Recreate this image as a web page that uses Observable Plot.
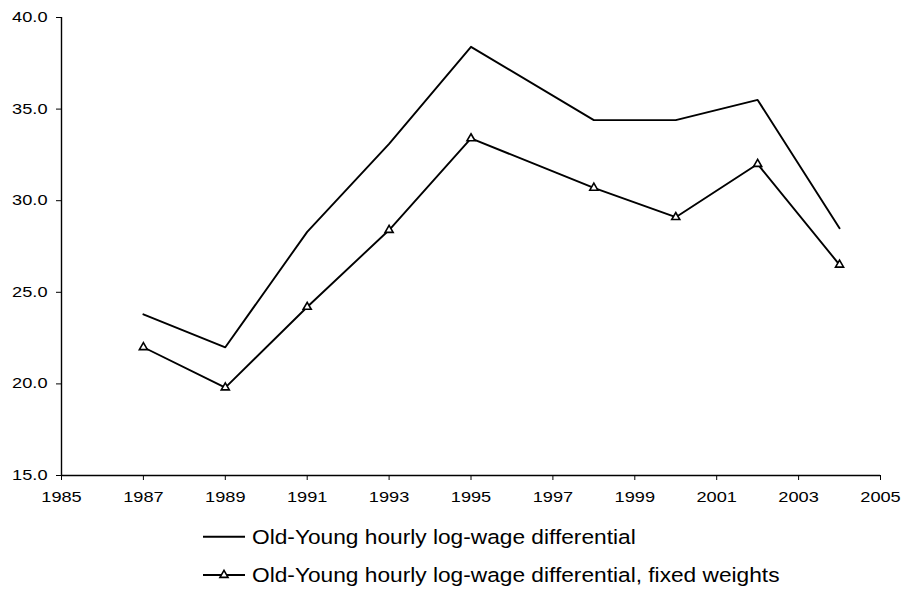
<!DOCTYPE html>
<html><head><meta charset="utf-8">
<script src="https://cdn.jsdelivr.net/npm/d3@7"></script>
<script src="https://cdn.jsdelivr.net/npm/@observablehq/plot@0.6"></script>
<style>body{margin:0;background:#fff;font-family:"Liberation Sans",Arial,sans-serif} #chart svg{display:block}</style>
</head><body><div id="chart"></div>
<script>
const years = [1987, 1989, 1991, 1993, 1995, 1998, 2000, 2002, 2004];
const differential = [23.8, 22.0, 28.3, 33.1, 38.4, 34.4, 34.4, 35.5, 28.5];
const fixedWeights = [22.0, 19.8, 24.2, 28.4, 33.4, 30.7, 29.1, 32.0, 26.5];
const xTicks = [1985, 1987, 1989, 1991, 1993, 1995, 1997, 1999, 2001, 2003, 2005];
const yTicks = [15, 20, 25, 30, 35, 40];
const seriesNames = ["Old-Young hourly log-wage differential", "Old-Young hourly log-wage differential, fixed weights"];

const rows1 = years.map((y, i) => ({year: y, value: differential[i]}));
const rows2 = years.map((y, i) => ({year: y, value: fixedWeights[i]}));

const plot = Plot.plot({
  width: 904, height: 505,
  marginLeft: 61, marginRight: 24, marginTop: 17, marginBottom: 30,
  style: {fontFamily: '"Liberation Sans", Arial, sans-serif', fontSize: "14px", color: "#000", background: "#fff"},
  x: {domain: [1985, 2005], ticks: xTicks, tickFormat: "d", tickSize: 5, tickPadding: 12, label: null},
  y: {domain: [15, 40], ticks: yTicks, tickFormat: d3.format(".1f"), tickSize: 5, tickPadding: 9, label: null},
  marks: [
    Plot.ruleX([1985], {stroke: "#000", strokeWidth: 1.4}),
    Plot.ruleY([15], {stroke: "#000", strokeWidth: 1.4}),
    Plot.line(rows1, {x: "year", y: "value", stroke: "#000", strokeWidth: 1.9}),
    Plot.line(rows2, {x: "year", y: "value", stroke: "#000", strokeWidth: 1.9}),
    Plot.dot(rows2, {x: "year", y: "value", symbol: "triangle", r: 3, fill: "#fff", stroke: "#000", strokeWidth: 1.6})
  ]
});

d3.select(plot).selectAll('g[aria-label="x-axis tick label"] text, g[aria-label="y-axis tick label"] text').each(function() {
  let t = this.getAttribute("transform") || "";
  const x = this.getAttribute("x");
  if (x != null && !isNaN(+x)) {
    this.removeAttribute("x");
    t += ` translate(${+x},0)`;
  }
  this.setAttribute("transform", t + " scale(1.3,1)");
});

document.getElementById("chart").appendChild(plot);

// legend
const lg = d3.select("#chart").append("svg").attr("width", 904).attr("height", 85)
  .style("font-family", '"Liberation Sans", Arial, sans-serif');
const rowsY = [31.7, 70];
const textBase = [39, 77.3];
seriesNames.forEach((name, i) => {
  lg.append("line").attr("x1", 203).attr("x2", 245).attr("y1", rowsY[i]).attr("y2", rowsY[i])
    .attr("stroke", "#000").attr("stroke-width", 1.9);
  if (i === 1) {
    lg.append("path").attr("d", d3.symbol(d3.symbolTriangle, 3 * 3 * Math.PI)())
      .attr("transform", `translate(224,${rowsY[i]})`).attr("fill", "#fff").attr("stroke", "#000").attr("stroke-width", 1.6);
  }
  lg.append("text").attr("font-size", 19.5)
    .attr("transform", `translate(252,${textBase[i]}) scale(1.165,1)`).text(name);
});
</script>
</body></html>
